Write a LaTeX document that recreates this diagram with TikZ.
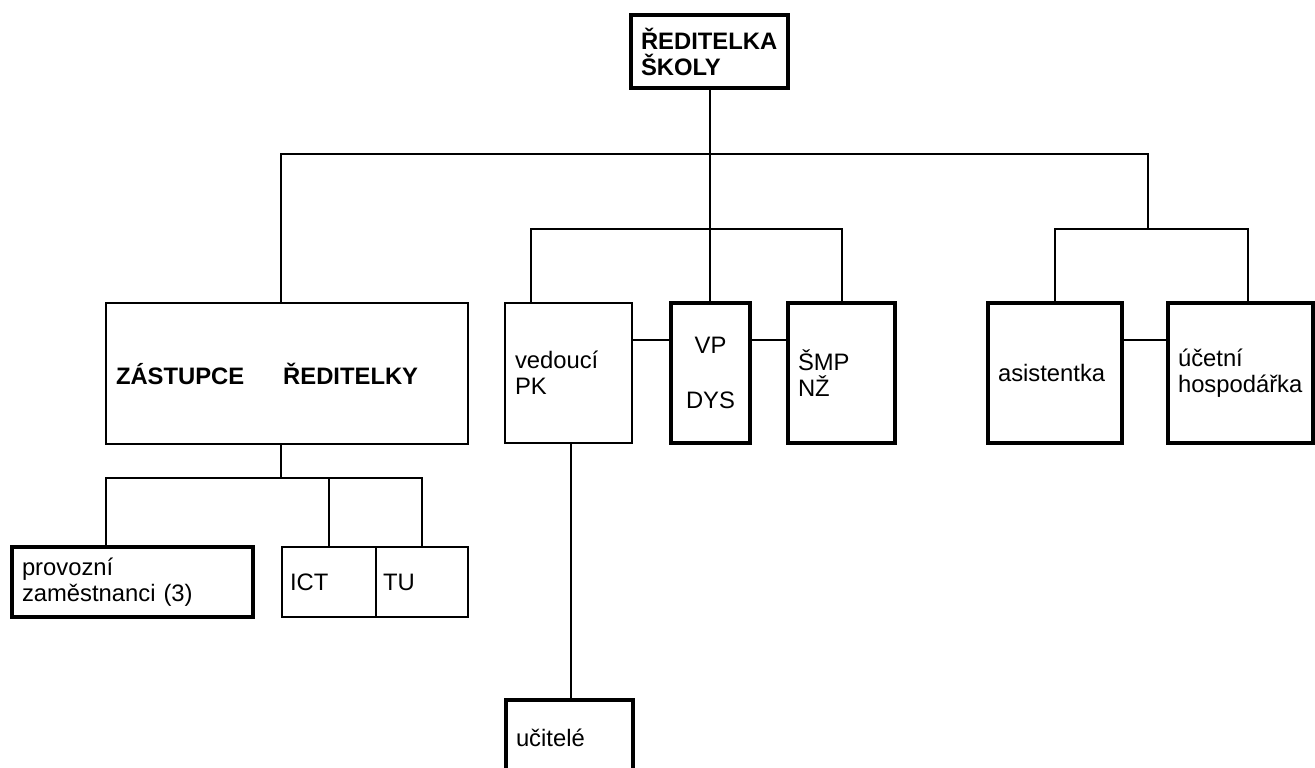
\documentclass[tikz,border=0pt]{standalone}
\usepackage{fontspec}
\setmainfont{Liberation Sans}
\usetikzlibrary{positioning, calc}

\begin{document}
\begin{tikzpicture}[
		x=0.5pt, y=-0.5pt,
		font=\fontsize{11.9}{13}\selectfont,
		% Style for the boxes of the chart
		role box/.style={
			draw, rectangle, line width=1.2pt,
			inner xsep=5pt, inner ysep=0pt, align=left
		},
		heavy box/.style={role box, line width=1.6pt},
		% Connector style
		link/.style={line width=1pt},
		lead/.style={font=\fontsize{11.9}{13}\selectfont\bfseries}
		]
		
		\clip (0,0) rectangle (1315,767);
		\fill[white] (0,0) rectangle (1315,767);
		
		% --- 1. Head of the school ---
		\node[heavy box, lead, minimum width=78.5pt, text width=68.5pt, minimum height=36.5pt] (dir) at (709.5,51.5) {ŘEDITELKA\\ŠKOLY};
		
		% --- 2. Second level ---
		\node[role box, lead, minimum width=181pt, text width=171pt, minimum height=70.5pt] (zast) at (287,373.5) {ZÁSTUPCE\hspace*{19.5pt}ŘEDITELKY};
		\node[role box, minimum width=63.5pt, text width=53.5pt, minimum height=70pt] (ved) at (568.5,373) {vedoucí\\PK};
		\node[heavy box, align=center, minimum width=39.5pt, text width=29.5pt, minimum height=70pt] (vp) at (710.5,373) {VP\\[14.5pt]DYS};
		\node[heavy box, minimum width=53.5pt, text width=43.5pt, minimum height=70pt] (smp) at (841.5,373) {ŠMP\\NŽ};
		\node[heavy box, minimum width=67pt, text width=57pt, minimum height=70pt] (asist) at (1055,373) {asistentka};
		\node[heavy box, minimum width=72.5pt, text width=62.5pt, minimum height=70pt] (ucet) at (1240.5,373) {účetní\\hospodářka};
		
		% --- 3. Third level ---
		\node[heavy box, minimum width=120.5pt, text width=110.5pt, minimum height=35pt] (prov) at (132.5,582) {provozní\\zaměstnanci (3)};
		\node[role box, inner xsep=4pt, minimum width=47pt, text width=39pt, minimum height=35pt] (ict) at (329,582) {ICT};
		\node[role box, inner xsep=3.5pt, minimum width=46pt, text width=39pt, minimum height=35pt] (tu) at (422,582) {TU};
		\node[heavy box, minimum width=63.5pt, text width=53.5pt, minimum height=37.5pt] (ucit) at (569.5,737.5) {učitelé};
		
		% --- 4. Bars of the tree ---
		\coordinate (top bar) at (709.5,154);
		\coordinate (mid bar) at (709.5,229);
		\coordinate (right bar) at (1148,229);
		\coordinate (low bar) at (281,478);
		
		% --- 5. Connectors ---
		\draw[link] (dir.south) -- (dir.south |- vp.north);
		\draw[link] ([xshift=-3pt]zast.north) |- (top bar) -| (right bar);
		\draw[link] ([xshift=-18.75pt]ved.north) |- (mid bar) -| (smp.north);
		\draw[link] (asist.north) |- (right bar) -| ([xshift=3.5pt]ucet.north);
		\draw[link] ([yshift=16.5pt]ved.east) -- ([yshift=16.5pt]vp.west);
		\draw[link] ([yshift=16.5pt]vp.east) -- ([yshift=16.5pt]smp.west);
		\draw[link] ([yshift=16.5pt]asist.east) -- ([yshift=16.5pt]ucet.west);
		\draw[link] ([xshift=-3pt]zast.south) -- (low bar);
		\draw[link] ([xshift=-13.25pt]prov.north) |- (low bar) -| (tu.north);
		\draw[link] (ict.north) -- (ict.north |- low bar);
		\draw[link] ([xshift=1.25pt]ved.south) -- ([xshift=1.25pt]ved.south |- ucit.north);
		
	\end{tikzpicture}
\end{document}
